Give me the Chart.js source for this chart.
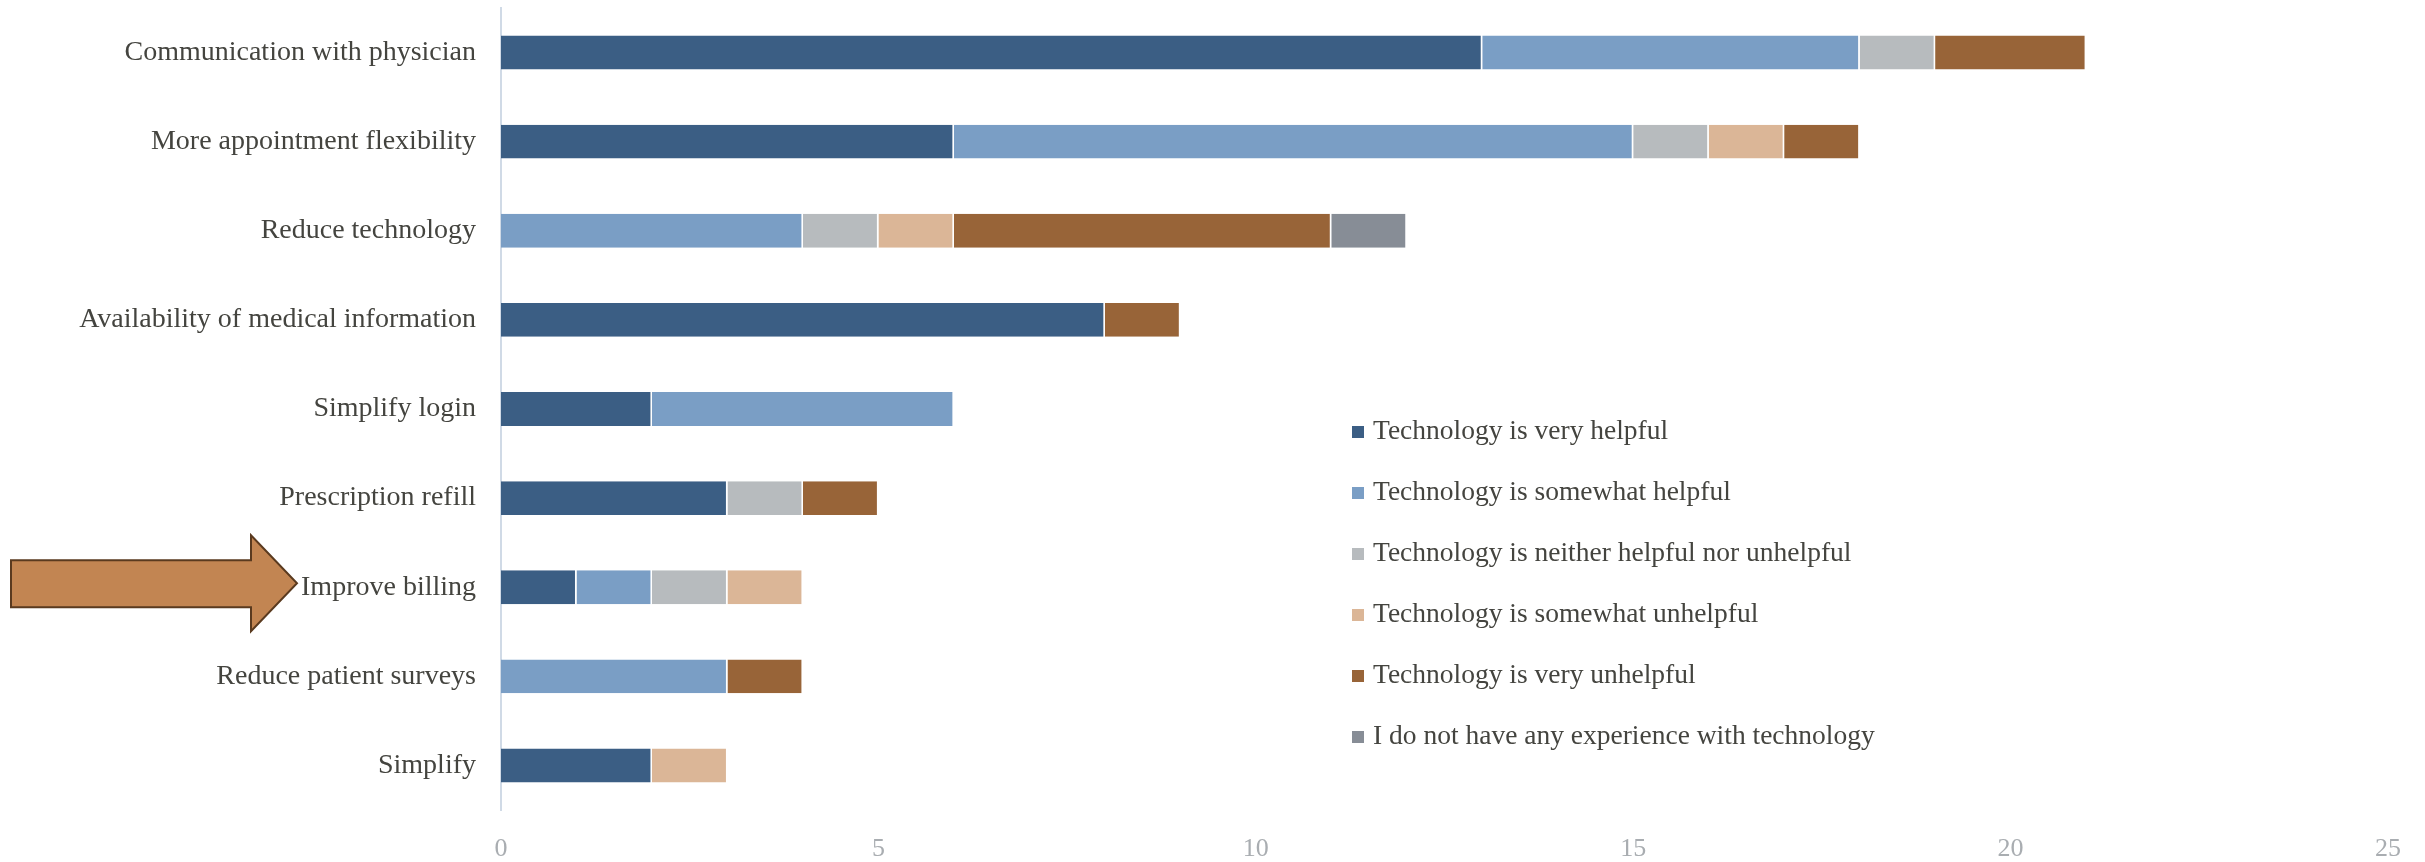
<!DOCTYPE html>
<html>
<head>
<meta charset="utf-8">
<title>Technology helpfulness</title>
<script src="https://cdn.jsdelivr.net/npm/chart.js@4"></script>
<style>
  body { margin: 0; background: #fff; }
  .wrap { position: relative; width: 2425px; height: 862px; }
  .legend-box { position: absolute; left: 1352px; top: 412px; font-family: "Liberation Serif", serif; font-size: 27.5px; color: #44443f; }
  .legend-box div { height: 61px; line-height: 36px; white-space: nowrap; }
  .legend-box span { display: inline-block; width: 12px; height: 12px; margin-right: 9px; vertical-align: 1px; }
</style>
</head>
<body>
<div class="wrap">
  <canvas id="chart-1" width="2425" height="862"></canvas>
  <div class="legend-box" id="legend-1"></div>
</div>
<script>
// categories (top to bottom)
const categories = [
  'Communication with physician',
  'More appointment flexibility',
  'Reduce technology',
  'Availability of medical information',
  'Simplify login',
  'Prescription refill',
  'Improve billing',
  'Reduce patient surveys',
  'Simplify'
];

// answers per category
const veryHelpful       = [13, 6, 0, 8, 2, 3, 1, 0, 2];
const somewhatHelpful   = [5, 9, 4, 0, 4, 0, 1, 3, 0];
const neither           = [1, 1, 1, 0, 0, 1, 1, 0, 0];
const somewhatUnhelpful = [0, 1, 1, 0, 0, 0, 1, 0, 1];
const veryUnhelpful     = [2, 1, 5, 1, 0, 1, 0, 1, 0];
const noExperience      = [0, 0, 1, 0, 0, 0, 0, 0, 0];

const seriesNames = [
  'Technology is very helpful',
  'Technology is somewhat helpful',
  'Technology is neither helpful nor unhelpful',
  'Technology is somewhat unhelpful',
  'Technology is very unhelpful',
  'I do not have any experience with technology'
];
const seriesColors = ['#3b5e84', '#7a9ec5', '#b7bbbe', '#dbb697', '#986438', '#878d96'];

// x axis ticks
const xMin = 0;
const xMax = 25;
const xStep = 5;

// the category that gets the arrow
const arrowCategory = 'Improve billing';

const allSeries = [veryHelpful, somewhatHelpful, neither, somewhatUnhelpful, veryUnhelpful, noExperience];

const datasets = allSeries.map((values, i) => ({
  label: seriesNames[i],
  data: values,
  backgroundColor: seriesColors[i],
  borderColor: '#ffffff',
  borderWidth: { top: 0, right: 1.5, bottom: 0, left: 0 },
  borderSkipped: false,
  categoryPercentage: 1,
  barPercentage: 0.38
}));

// arrow pointing at one label
const arrowPlugin = {
  id: 'arrow',
  afterDraw(chart) {
    const ctx = chart.ctx;
    const y = chart.scales.y.getPixelForValue(categories.indexOf(arrowCategory)) - 4;
    ctx.save();
    ctx.beginPath();
    ctx.moveTo(11, y - 23);
    ctx.lineTo(251, y - 23);
    ctx.lineTo(251, y - 48);
    ctx.lineTo(297, y);
    ctx.lineTo(251, y + 48);
    ctx.lineTo(251, y + 24);
    ctx.lineTo(11, y + 24);
    ctx.closePath();
    ctx.fillStyle = '#c28552';
    ctx.fill();
    ctx.lineWidth = 2;
    ctx.strokeStyle = '#5a3a1f';
    ctx.stroke();
    ctx.restore();
  }
};

const chart1 = new Chart(document.getElementById('chart-1'), {
  type: 'bar',
  data: { labels: categories, datasets: datasets },
  options: {
    indexAxis: 'y',
    responsive: false,
    animation: false,
    devicePixelRatio: 1,
    layout: { padding: { top: 8, right: 35, bottom: 0, left: 0 } },
    plugins: {
      legend: { display: false },
      tooltip: { enabled: false }
    },
    scales: {
      x: {
        stacked: true,
        min: xMin,
        max: xMax,
        ticks: {
          stepSize: xStep,
          padding: 24,
          color: '#a9adb1',
          font: { family: 'Liberation Serif', size: 26 }
        },
        grid: { display: false, drawTicks: false },
        border: { display: false },
        afterFit(scale) { scale.height = 52; }
      },
      y: {
        stacked: true,
        ticks: {
          padding: 25,
          color: '#44443f',
          font: { family: 'Liberation Serif', size: 28 }
        },
        grid: { display: false, drawTicks: false },
        border: { display: true, color: '#d0dae6', width: 2 },
        afterFit(scale) {
          scale.width = 501;
          // no extra room above the first label
          scale.paddingTop = 0;
          scale.paddingBottom = 0;
        }
      }
    }
  },
  plugins: [arrowPlugin]
});

// legend next to the bars
const legendBox = document.getElementById('legend-1');
seriesNames.forEach((name, i) => {
  const row = document.createElement('div');
  const mark = document.createElement('span');
  mark.style.background = seriesColors[i];
  row.appendChild(mark);
  row.appendChild(document.createTextNode(name));
  legendBox.appendChild(row);
});
</script>
</body>
</html>
